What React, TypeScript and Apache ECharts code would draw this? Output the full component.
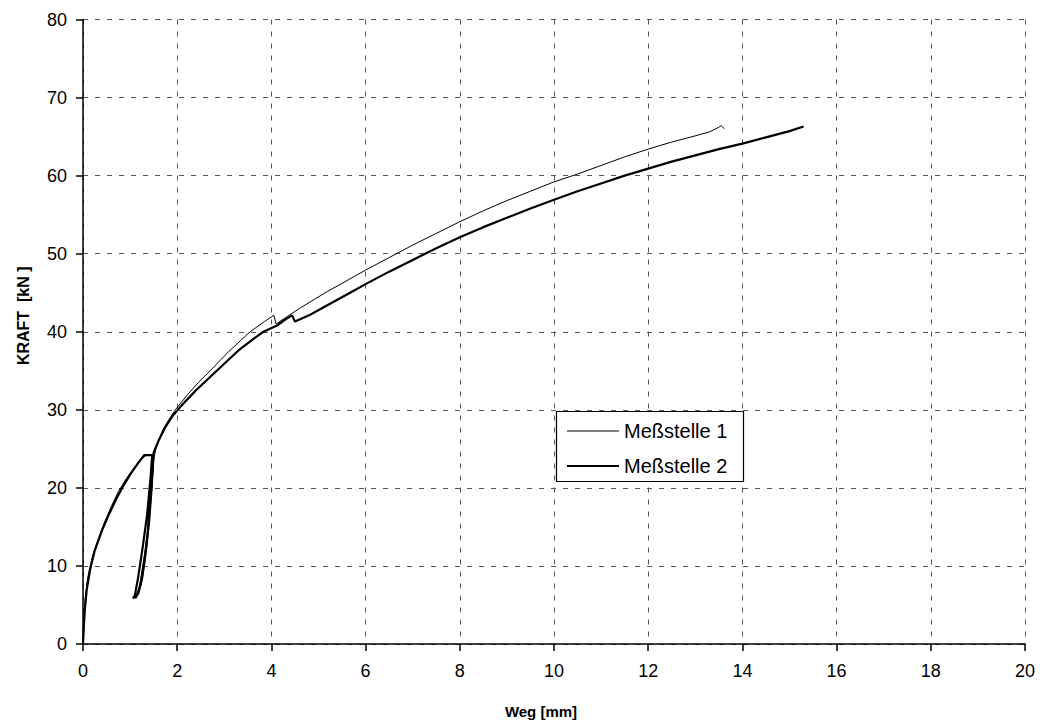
import React, { useEffect, useRef } from "react";
import * as echarts from "echarts";

const seriesNames = ["Meßstelle 1", "Meßstelle 2"];

const xTicks = { min: 0, max: 20, interval: 2 };
const yTicks = { min: 0, max: 80, interval: 10 };

const mess1: [number, number][] = [
  [0, 0], [0.02, 3.5], [0.05, 6], [0.1, 8.5], [0.2, 11.2], [0.3, 13], [0.45, 15.5],
  [0.6, 17.6], [0.75, 19.5], [0.9, 21], [1.05, 22.3], [1.2, 23.5], [1.35, 24.2], [1.5, 24.1],
  [1.46, 20.5], [1.4, 16], [1.32, 12], [1.23, 8.5], [1.16, 6.3], [1.1, 6.0], [1.18, 6.3],
  [1.27, 8.5], [1.35, 12], [1.42, 16], [1.47, 20], [1.5, 23.5], [1.55, 25.2], [1.7, 27.5],
  [1.85, 29], [1.96, 30], [2.2, 31.8], [2.45, 33.5], [2.7, 35], [3.1, 37.5], [3.35, 38.9],
  [3.55, 40], [3.85, 41.3], [4.05, 42.1], [4.1, 41], [4.3, 41.8], [4.6, 43], [4.9, 44.1],
  [5.2, 45.2], [5.5, 46.2], [6, 47.9], [6.5, 49.5], [7, 51.1], [7.5, 52.6], [8, 54.1],
  [8.5, 55.5], [9, 56.8], [9.5, 58.0], [10, 59.2], [10.5, 60.2], [11, 61.3], [11.5, 62.4],
  [12, 63.4], [12.5, 64.3], [13, 65.1], [13.3, 65.6], [13.5, 66.2], [13.55, 66.4], [13.62, 66.0],
];

const mess2: [number, number][] = [
  [0, 0], [0.02, 2.5], [0.04, 4.5], [0.08, 7], [0.15, 9.5], [0.25, 12], [0.4, 14.5],
  [0.55, 16.6], [0.7, 18.5], [0.85, 20.2], [1.0, 21.7], [1.15, 23], [1.3, 24.2], [1.47, 24.2],
  [1.43, 21], [1.36, 16.5], [1.27, 12.5], [1.17, 8.5], [1.1, 6.2], [1.06, 5.9], [1.13, 6],
  [1.22, 7.5], [1.3, 10.5], [1.37, 14], [1.43, 18.5], [1.48, 22.5], [1.5, 24.5], [1.6, 26],
  [1.75, 27.8], [1.9, 29.2], [2.1, 30.6], [2.4, 32.5], [2.84, 35], [3.3, 37.6], [3.6, 39],
  [3.83, 40], [4.12, 40.8], [4.3, 41.6], [4.44, 42.1], [4.5, 41.3], [4.8, 42.1], [5.1, 43.1],
  [5.4, 44.1], [5.7, 45.1], [6, 46.1], [6.5, 47.7], [7, 49.2], [7.5, 50.7], [8, 52.1],
  [8.5, 53.4], [9, 54.6], [9.5, 55.8], [10, 56.9], [10.5, 58.0], [11, 59.0], [11.5, 60.0],
  [12, 60.9], [12.5, 61.8], [13, 62.6], [13.5, 63.4], [14, 64.1], [14.5, 64.9], [15, 65.7],
  [15.3, 66.3],
];

const FONT = "'Liberation Sans', Arial, sans-serif";

export default function App() {
  const ref = useRef<HTMLDivElement>(null);
  useEffect(() => {
    if (!ref.current) return;
    const chart = echarts.init(ref.current, undefined, { renderer: "svg" });
    const splitLine = { show: true, lineStyle: { color: "#555", width: 1, type: [5, 7] as any } };
    chart.setOption({
      animation: false,
      backgroundColor: "#fff",
      textStyle: { fontFamily: FONT },
      grid: { left: 83, top: 19.5, right: 21, bottom: 82, containLabel: false },
      xAxis: {
        type: "value",
        min: xTicks.min,
        max: xTicks.max,
        interval: xTicks.interval,
        name: "Weg [mm]",
        nameLocation: "middle",
        nameGap: 60,
        nameTextStyle: { fontFamily: FONT, fontWeight: "bold", fontSize: 15, color: "#000", padding: [0, 26, 0, 0] },
        axisLine: { show: true, onZero: false, lineStyle: { color: "#000", width: 1.5 } },
        axisTick: { show: true, length: 7, lineStyle: { color: "#000", width: 1.5 } },
        axisLabel: { fontFamily: FONT, fontSize: 18, color: "#000", margin: 18 },
        splitLine,
      },
      yAxis: {
        type: "value",
        min: yTicks.min,
        max: yTicks.max,
        interval: yTicks.interval,
        name: "KRAFT  [kN ]",
        nameLocation: "middle",
        nameGap: 52,
        nameRotate: 90,
        nameTextStyle: { fontFamily: FONT, fontWeight: "bold", fontSize: 16, color: "#000", padding: [0, 0, 0, 32] },
        axisLine: { show: true, onZero: false, lineStyle: { color: "#000", width: 1.5 } },
        axisTick: { show: true, length: 7, lineStyle: { color: "#000", width: 1.5 } },
        axisLabel: { fontFamily: FONT, fontSize: 18, color: "#000", margin: 16 },
        splitLine,
      },
      graphic: [
        {
          type: "rect",
          z: 50,
          shape: { x: 556.5, y: 411.5, width: 187, height: 70 },
          style: { fill: "#fff", stroke: "#000", lineWidth: 1.2 },
        },
      ],
      legend: [
        {
          z: 60,
          left: 562,
          top: 416,
          data: [{ name: seriesNames[0], icon: "rect" }],
          itemWidth: 52,
          itemHeight: 1,
          textStyle: { fontFamily: FONT, fontSize: 20, color: "#000" },
        },
        {
          z: 60,
          left: 562,
          top: 451,
          data: [{ name: seriesNames[1], icon: "rect" }],
          itemWidth: 52,
          itemHeight: 2,
          textStyle: { fontFamily: FONT, fontSize: 20, color: "#000" },
        },
      ],
      series: [
        {
          name: seriesNames[0],
          type: "line",
          data: mess1,
          showSymbol: false,
          symbol: "none",
          lineStyle: { color: "#000", width: 1 },
          itemStyle: { color: "#000" },
          z: 3,
        },
        {
          name: seriesNames[1],
          type: "line",
          data: mess2,
          showSymbol: false,
          symbol: "none",
          lineStyle: { color: "#000", width: 2.2 },
          itemStyle: { color: "#000" },
          z: 2,
        },
      ],
    });
    return () => chart.dispose();
  }, []);
  return <div ref={ref} style={{ width: 1046, height: 726, position: "absolute", left: 0, top: 0 }} />;
}
